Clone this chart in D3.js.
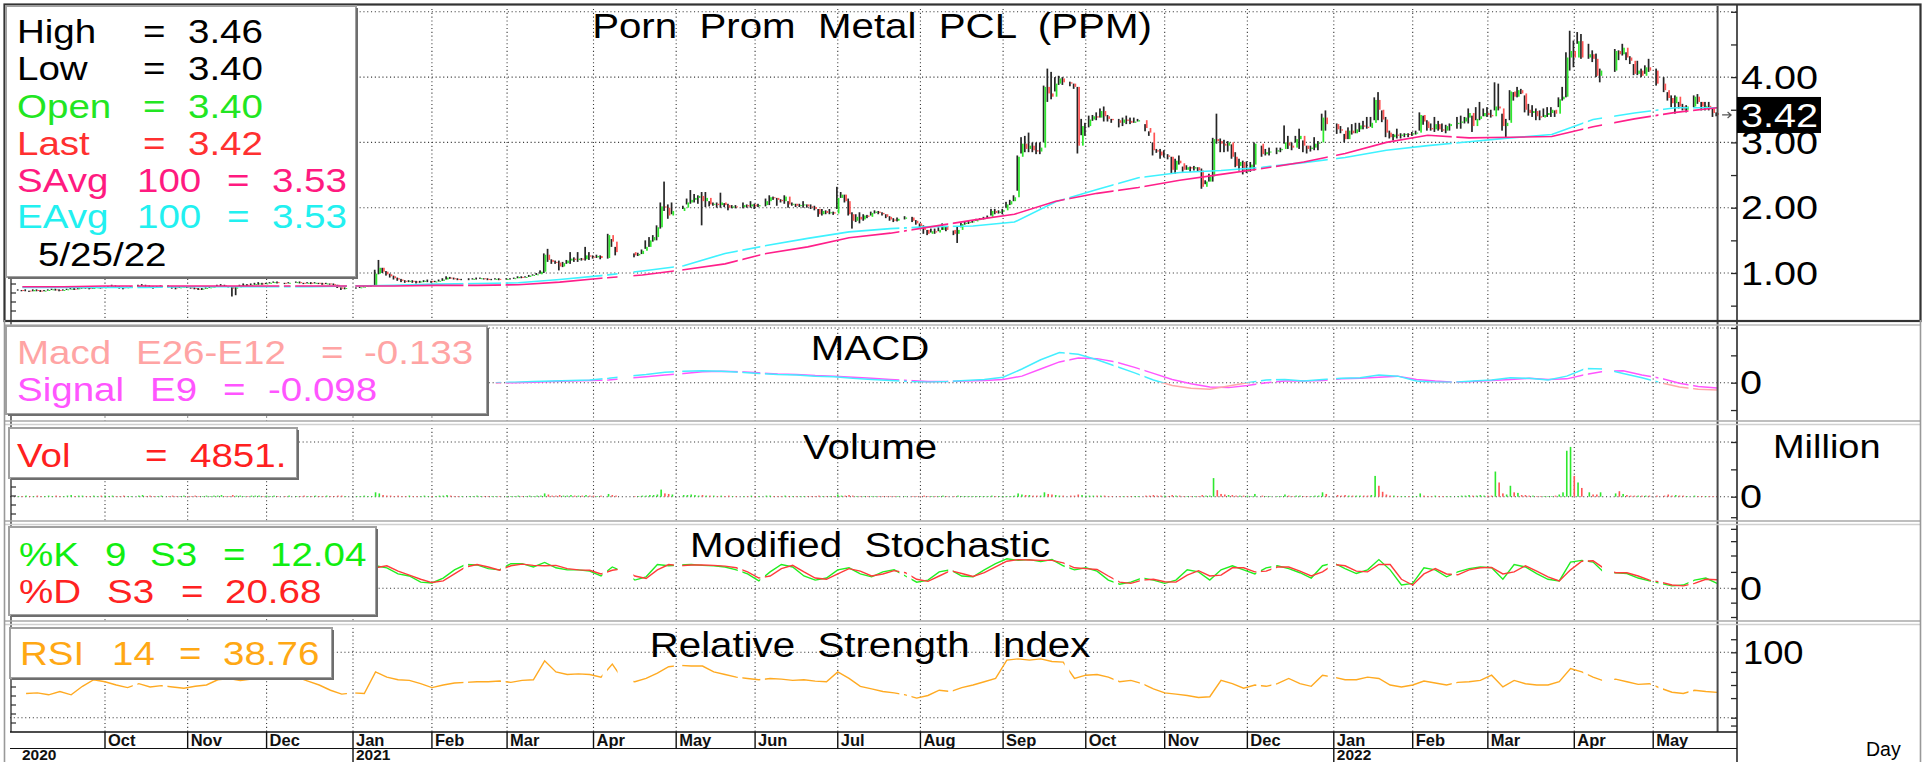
<!DOCTYPE html>
<html>
<head>
<meta charset="utf-8">
<script src="https://cdn.jsdelivr.net/npm/d3@7"></script>
<style>
  body { margin: 0; background: #fff; }
  svg text { font-family: "Liberation Sans", Arial, sans-serif; }
</style>
</head>
<body>
<div id="chart"></div>
<script>
// ---------- data ----------
const months = ["2020-08","2020-09","2020-10","2020-11","2020-12","2021-01","2021-02","2021-03","2021-04","2021-05","2021-06",
  "2021-07","2021-08","2021-09","2021-10","2021-11","2021-12","2022-01","2022-02","2022-03","2022-04","2022-05"];
const firstDay = "2020-08-31", lastDay = "2022-05-25";
// SET market holidays (no bar, gap in the lines)
const holidays = ["2020-10-13","2020-10-23","2020-12-07","2020-12-10","2020-12-31","2021-01-01","2021-02-12","2021-02-26",
  "2021-04-06","2021-04-12","2021-04-13","2021-04-14","2021-04-15","2021-05-03","2021-05-04","2021-05-26","2021-06-03",
  "2021-07-26","2021-07-28","2021-08-12","2021-09-24","2021-10-13","2021-10-22","2021-12-06","2021-12-10","2021-12-31",
  "2022-01-03","2022-02-16","2022-04-06","2022-04-13","2022-04-14","2022-04-15","2022-05-02","2022-05-04","2022-05-16"];

// daily closes / highs / lows, one list per month
const closes = [
  [0.74],
  [0.73,0.73,0.72,0.74,0.73,0.72,0.73,0.74,0.75,0.74,0.73,0.74,0.75,0.76,0.75,0.77,0.78,0.77,0.76,0.77,0.78,0.77],
  [0.78,0.79,0.80,0.79,0.78,0.77,0.78,0.79,0.80,0.81,0.80,0.79,0.78,0.79,0.80,0.79,0.78,0.77,0.78,0.79],
  [0.78,0.77,0.76,0.75,0.76,0.77,0.78,0.79,0.80,0.81,0.80,0.79,0.76,0.78,0.81,0.82,0.81,0.82,0.83,0.84,0.83],
  [0.84,0.85,0.86,0.85,0.84,0.85,0.86,0.85,0.84,0.85,0.84,0.85,0.84,0.83,0.84,0.83,0.82,0.78,0.76,0.77],
  [0.77,0.78,0.79,0.80,0.80,0.99,1.08,1.02,0.98,0.95,0.92,0.90,0.88,0.87,0.88,0.87,0.86,0.87,0.88,0.88],
  [0.86,0.87,0.88,0.90,0.93,0.92,0.91,0.90,0.90,0.90,0.91,0.91,0.92,0.91,0.90,0.90,0.91,0.90],
  [0.91,0.91,0.92,0.94,0.93,0.94,0.96,0.97,0.98,1.02,1.28,1.20,1.17,1.16,1.10,1.15,1.19,1.22,1.20,1.22,1.21,1.27,1.25],
  [1.24,1.26,1.23,1.58,1.48,1.32,1.27,1.29,1.34,1.40,1.50,1.55,1.70,2.02,2.00,1.88,1.95],
  [2.00,2.08,2.12,2.15,2.18,2.10,2.15,2.05,2.06,2.04,2.08,2.04,2.00,2.02,2.01,2.04,2.02,2.05],
  [2.02,2.04,2.10,2.16,2.15,2.12,2.10,2.17,2.05,2.06,2.03,2.04,2.05,2.02,2.01,1.98,1.90,1.95,1.92,1.93,1.91],
  [2.15,2.20,2.10,1.90,1.80,1.86,1.82,1.88,1.86,1.92,1.94,1.92,1.90,1.86,1.82,1.80,1.83,1.85,1.80,1.76],
  [1.72,1.66,1.60,1.64,1.62,1.66,1.72,1.66,1.60,1.66,1.75,1.77,1.78,1.79,1.82,1.83,1.84,1.86,1.95,1.92,1.94],
  [1.96,2.05,2.10,2.16,2.78,2.98,2.90,2.95,2.88,2.86,2.92,3.85,3.75,3.70,3.90,3.98,3.92,3.90,3.85,2.95,3.25],
  [3.25,3.35,3.40,3.38,3.48,3.40,3.36,3.34,3.30,3.35,3.33,3.30,3.32,3.34,3.22,3.15,2.88,2.86,2.80],
  [2.80,2.78,2.58,2.72,2.68,2.58,2.62,2.60,2.62,2.57,2.32,2.40,2.48,3.05,3.02,2.98,2.95,3.00,2.78,2.64,2.70,2.55],
  [2.60,2.66,2.98,2.82,2.85,2.86,2.88,2.90,3.00,2.95,2.92,3.05,3.10,2.95,2.90,2.92,2.98,3.00,3.38,3.28],
  [3.20,3.18,3.05,3.18,3.14,3.20,3.26,3.24,3.22,3.30,3.65,3.50,3.35,3.15,3.08,3.12,3.10,3.12,3.13,3.12],
  [3.14,3.15,3.42,3.32,3.22,3.20,3.28,3.20,3.18,3.25,3.28,3.30,3.32,3.38,3.45,3.25,3.36,3.40,3.45],
  [3.42,3.40,3.55,3.52,3.25,3.30,3.78,3.70,3.80,3.75,3.50,3.45,3.48,3.40,3.38,3.42,3.45,3.50,3.44,3.66,3.70,4.30,4.40],
  [4.30,4.55,4.30,4.35,4.28,4.02,4.10,4.40,4.35,4.45,4.30,4.25,4.05,4.10,4.02,4.15,4.10],
  [3.90,3.80,3.68,3.60,3.70,3.55,3.50,3.55,3.70,3.62,3.55,3.56,3.52,3.45,3.42]
];
const highs = [
  [0.75],
  [0.74,0.75,0.73,0.75,0.75,0.74,0.74,0.75,0.76,0.76,0.75,0.75,0.76,0.78,0.77,0.78,0.80,0.79,0.78,0.78,0.79,0.79],
  [0.79,0.80,0.82,0.81,0.80,0.79,0.79,0.80,0.82,0.83,0.82,0.81,0.80,0.80,0.81,0.81,0.80,0.79,0.79,0.80],
  [0.79,0.78,0.78,0.77,0.77,0.78,0.79,0.80,0.82,0.83,0.82,0.80,0.79,0.80,0.82,0.84,0.83,0.84,0.85,0.86,0.85],
  [0.85,0.86,0.87,0.87,0.85,0.86,0.87,0.87,0.85,0.86,0.86,0.86,0.85,0.85,0.85,0.84,0.84,0.82,0.78,0.78],
  [0.78,0.79,0.80,0.81,0.81,1.05,1.20,1.08,1.03,0.99,0.96,0.93,0.91,0.89,0.89,0.89,0.88,0.88,0.89,0.90],
  [0.88,0.88,0.90,0.92,0.95,0.94,0.93,0.92,0.91,0.92,0.92,0.93,0.93,0.92,0.92,0.91,0.92,0.92],
  [0.92,0.92,0.93,0.95,0.95,0.95,0.97,0.98,1.00,1.04,1.30,1.37,1.21,1.19,1.19,1.17,1.20,1.32,1.24,1.32,1.23,1.40,1.32],
  [1.27,1.28,1.27,1.60,1.52,1.40,1.30,1.31,1.36,1.50,1.55,1.58,1.73,2.08,2.40,2.05,2.08],
  [2.03,2.14,2.27,2.21,2.19,2.24,2.24,2.10,2.08,2.08,2.23,2.07,2.06,2.04,2.04,2.08,2.05,2.10],
  [2.06,2.06,2.14,2.19,2.17,2.15,2.13,2.19,2.10,2.08,2.06,2.06,2.10,2.05,2.05,2.03,1.98,1.98,1.96,1.98,1.94],
  [2.32,2.24,2.20,2.14,1.93,1.90,1.93,1.90,1.89,1.94,1.96,1.95,1.93,1.90,1.87,1.84,1.85,1.87,1.86,1.81],
  [1.76,1.73,1.66,1.68,1.68,1.70,1.76,1.72,1.65,1.71,1.77,1.79,1.80,1.81,1.83,1.84,1.86,1.88,1.98,1.98,1.96],
  [1.98,2.09,2.12,2.19,2.80,3.08,3.10,3.15,3.00,3.00,3.00,3.87,4.13,4.08,4.00,4.02,4.00,3.93,3.90,3.85,3.36],
  [3.30,3.41,3.42,3.46,3.52,3.55,3.42,3.36,3.36,3.38,3.41,3.38,3.38,3.36,3.28,3.17,3.00,2.90,2.90],
  [2.88,2.82,2.78,2.75,2.80,2.63,2.65,2.63,2.64,2.62,2.60,2.42,2.52,3.07,3.44,3.06,3.04,3.02,2.97,2.85,2.75,2.72],
  [2.71,2.70,3.00,2.95,2.90,2.92,2.92,2.92,3.26,3.10,3.00,3.10,3.21,3.03,2.95,2.95,3.08,3.02,3.44,3.49],
  [3.29,3.25,3.13,3.23,3.28,3.30,3.30,3.33,3.39,3.39,3.69,3.77,3.49,3.39,3.18,3.13,3.21,3.14,3.14,3.14],
  [3.16,3.18,3.46,3.41,3.34,3.29,3.39,3.33,3.29,3.27,3.29,3.39,3.41,3.39,3.52,3.41,3.54,3.62,3.52],
  [3.54,3.50,3.92,3.90,3.44,3.36,3.80,3.77,3.85,3.82,3.72,3.59,3.57,3.52,3.49,3.52,3.54,3.54,3.49,3.69,3.85,4.38,4.71],
  [4.56,4.69,4.66,4.51,4.41,4.36,4.13,4.43,4.41,4.51,4.38,4.32,4.20,4.25,4.13,4.18,4.28],
  [4.13,4.00,3.77,3.72,3.72,3.62,3.59,3.57,3.72,3.74,3.62,3.62,3.62,3.52,3.46]
];
const lows = [
  [0.73],
  [0.72,0.72,0.71,0.72,0.72,0.71,0.72,0.73,0.74,0.73,0.72,0.73,0.74,0.75,0.74,0.75,0.76,0.76,0.75,0.76,0.77,0.76],
  [0.77,0.78,0.79,0.78,0.76,0.75,0.77,0.78,0.79,0.80,0.79,0.78,0.76,0.78,0.79,0.78,0.76,0.75,0.77,0.78],
  [0.77,0.76,0.75,0.74,0.74,0.76,0.77,0.78,0.79,0.80,0.79,0.78,0.64,0.66,0.79,0.80,0.80,0.81,0.82,0.82,0.82],
  [0.83,0.84,0.85,0.84,0.83,0.84,0.85,0.84,0.83,0.84,0.83,0.84,0.83,0.82,0.83,0.82,0.81,0.77,0.74,0.75],
  [0.76,0.77,0.78,0.79,0.79,0.80,0.98,1.00,0.96,0.93,0.90,0.88,0.86,0.85,0.86,0.85,0.84,0.85,0.86,0.86],
  [0.85,0.86,0.87,0.88,0.90,0.91,0.90,0.89,0.89,0.89,0.90,0.90,0.91,0.90,0.89,0.89,0.90,0.89],
  [0.90,0.90,0.91,0.92,0.92,0.93,0.94,0.96,0.97,0.99,1.00,1.17,1.14,1.14,1.04,1.09,1.14,1.14,1.17,1.17,1.19,1.19,1.20],
  [1.22,1.23,1.21,1.22,1.40,1.27,1.24,1.26,1.29,1.37,1.40,1.48,1.50,1.68,1.95,1.83,1.90],
  [1.98,2.05,2.06,2.08,2.06,1.73,2.01,2.02,2.03,2.00,2.00,2.01,1.96,1.99,1.99,1.99,2.00,2.00],
  [1.98,2.01,2.02,2.04,2.12,2.03,2.08,2.06,2.00,2.03,2.01,2.01,2.00,2.00,1.98,1.96,1.86,1.88,1.90,1.90,1.89],
  [1.98,2.15,2.08,1.88,1.68,1.78,1.76,1.80,1.84,1.88,1.91,1.90,1.88,1.84,1.80,1.78,1.79,1.82,1.78,1.74],
  [1.68,1.60,1.58,1.62,1.60,1.64,1.66,1.64,1.58,1.46,1.70,1.74,1.75,1.77,1.80,1.81,1.82,1.84,1.88,1.90,1.91],
  [1.90,2.00,2.04,2.10,2.26,2.83,2.85,2.85,2.85,2.82,2.82,3.00,3.62,3.66,3.78,3.88,3.88,3.86,3.82,2.83,3.11],
  [3.10,3.23,3.33,3.34,3.38,3.32,3.32,3.30,3.23,3.25,3.28,3.28,3.30,3.32,3.17,3.10,2.80,2.84,2.75],
  [2.77,2.74,2.52,2.52,2.66,2.55,2.58,2.55,2.57,2.55,2.29,2.36,2.40,2.40,2.98,2.85,2.85,2.86,2.75,2.62,2.57,2.51],
  [2.53,2.55,2.57,2.78,2.80,2.80,2.82,2.85,2.98,2.90,2.88,3.00,2.90,2.85,2.83,2.86,2.88,2.88,3.18,3.18],
  [3.13,3.14,3.00,3.05,3.12,3.14,3.16,3.20,3.21,3.24,3.34,3.34,3.31,3.08,3.06,3.03,3.06,3.06,3.08,3.08],
  [3.10,3.12,3.18,3.27,3.18,3.18,3.16,3.18,3.16,3.14,3.18,3.21,3.21,3.29,3.29,3.16,3.34,3.34,3.40],
  [3.39,3.38,3.49,3.49,3.18,3.06,3.34,3.64,3.69,3.74,3.46,3.41,3.39,3.34,3.34,3.39,3.39,3.39,3.39,3.54,3.64,3.69,4.10],
  [4.15,4.51,4.28,4.28,4.23,4.00,3.92,4.08,4.26,4.33,4.26,4.20,4.03,4.03,4.00,4.05,4.08],
  [3.87,3.77,3.64,3.54,3.44,3.52,3.49,3.46,3.54,3.59,3.49,3.49,3.49,3.39,3.40]
];
// daily volume, million shares
const volumes = [
  [0.01],
  [0.01,0.02,0.01,0.01,0.02,0.01,0.01,0.02,0.01,0.02,0.01,0.01,0.02,0.03,0.01,0.02,0.02,0.01,0.01,0.02,0.01,0.02],
  [0.02,0.01,0.02,0.01,0.01,0.02,0.01,0.01,0.02,0.03,0.01,0.02,0.01,0.01,0.02,0.01,0.02,0.01,0.01,0.02],
  [0.01,0.01,0.02,0.01,0.01,0.02,0.01,0.02,0.02,0.03,0.01,0.01,0.03,0.02,0.02,0.01,0.01,0.02,0.02,0.02,0.01],
  [0.02,0.01,0.02,0.01,0.01,0.02,0.01,0.01,0.02,0.01,0.01,0.02,0.01,0.01,0.02,0.01,0.01,0.02,0.02,0.01],
  [0.01,0.01,0.02,0.01,0.01,0.08,0.06,0.03,0.02,0.02,0.01,0.02,0.01,0.01,0.02,0.01,0.01,0.01,0.02,0.01],
  [0.01,0.01,0.02,0.02,0.03,0.02,0.01,0.01,0.01,0.01,0.01,0.02,0.01,0.01,0.01,0.01,0.01,0.01],
  [0.01,0.01,0.01,0.02,0.01,0.01,0.02,0.01,0.02,0.02,0.06,0.04,0.02,0.02,0.03,0.02,0.02,0.03,0.02,0.02,0.02,0.03,0.02],
  [0.02,0.01,0.02,0.05,0.03,0.02,0.01,0.01,0.02,0.02,0.03,0.03,0.04,0.13,0.06,0.05,0.04],
  [0.03,0.03,0.04,0.03,0.02,0.03,0.02,0.02,0.02,0.01,0.02,0.01,0.02,0.01,0.01,0.01,0.01,0.02],
  [0.01,0.01,0.02,0.02,0.01,0.01,0.01,0.02,0.01,0.01,0.01,0.01,0.01,0.01,0.01,0.01,0.02,0.01,0.01,0.01,0.01],
  [0.04,0.02,0.02,0.03,0.02,0.01,0.01,0.01,0.01,0.01,0.01,0.01,0.01,0.01,0.01,0.01,0.01,0.01,0.01,0.01],
  [0.01,0.02,0.01,0.01,0.01,0.01,0.02,0.01,0.01,0.02,0.01,0.01,0.01,0.01,0.01,0.01,0.01,0.01,0.02,0.01,0.01],
  [0.01,0.01,0.01,0.02,0.06,0.04,0.03,0.03,0.02,0.02,0.02,0.08,0.05,0.04,0.03,0.02,0.02,0.02,0.02,0.04,0.03],
  [0.02,0.02,0.02,0.02,0.02,0.02,0.01,0.01,0.01,0.01,0.01,0.01,0.01,0.01,0.02,0.02,0.03,0.02,0.02],
  [0.02,0.01,0.03,0.02,0.02,0.01,0.01,0.01,0.01,0.01,0.03,0.02,0.02,0.34,0.12,0.05,0.04,0.03,0.03,0.02,0.02,0.02],
  [0.02,0.01,0.05,0.02,0.01,0.01,0.01,0.01,0.04,0.02,0.01,0.02,0.02,0.01,0.01,0.01,0.02,0.02,0.08,0.05],
  [0.03,0.02,0.03,0.02,0.02,0.02,0.02,0.02,0.02,0.03,0.38,0.20,0.09,0.04,0.02,0.02,0.01,0.01,0.01,0.01],
  [0.01,0.01,0.06,0.02,0.01,0.01,0.02,0.01,0.01,0.01,0.01,0.01,0.02,0.02,0.03,0.02,0.02,0.03,0.02],
  [0.02,0.02,0.46,0.26,0.06,0.04,0.20,0.08,0.07,0.03,0.03,0.02,0.02,0.01,0.01,0.01,0.01,0.01,0.02,0.04,0.08,0.84,0.91],
  [0.38,0.26,0.16,0.08,0.04,0.04,0.08,0.06,0.10,0.05,0.03,0.02,0.02,0.02,0.02,0.02,0.02],
  [0.02,0.02,0.04,0.02,0.03,0.02,0.02,0.01,0.02,0.01,0.01,0.01,0.01,0.01,0.005]
];

// indicator lines, sampled every N weekdays from a start date
const avgStart = "2020-09-01", avgStep = 11;
const sma100 = [0.79,0.79,0.80,0.80,0.80,0.80,0.80,0.80,0.80,0.80,0.81,0.81,0.82,0.86,0.92,0.97,1.05,1.14,1.30,1.40,
  1.54,1.61,1.71,1.81,1.90,2.10,2.22,2.31,2.42,2.51,2.60,2.70,2.83,3.00,3.11,3.07,3.08,3.09,3.24,3.36,3.46,3.53];
const ema100 = [0.78,0.78,0.78,0.78,0.79,0.79,0.79,0.79,0.80,0.81,0.83,0.84,0.85,0.90,0.96,1.03,1.11,1.30,1.42,1.53,
  1.63,1.68,1.71,1.72,1.78,2.09,2.28,2.46,2.54,2.57,2.62,2.69,2.77,2.88,2.95,3.01,3.07,3.12,3.35,3.45,3.53,3.53];

const macdStart = "2021-02-24", macdStep = 5;
const macdValues = [0.00,0.01,0.02,0.03,0.04,0.05,0.08,0.12,0.15,0.19,0.21,0.22,0.21,0.19,0.17,0.15,0.14,0.12,0.11,0.08,
  0.06,0.04,0.02,0.01,0.02,0.04,0.06,0.10,0.25,0.42,0.55,0.52,0.42,0.30,0.18,0.05,-0.05,-0.10,-0.12,-0.06,
  0.00,0.05,0.06,0.03,0.06,0.08,0.09,0.14,0.12,0.03,0.01,0.01,0.03,0.05,0.09,0.08,0.05,0.12,0.26,0.25,
  0.17,0.09,0.00,-0.08,-0.12,-0.133];
const signalValues = [0.00,0.00,0.01,0.02,0.03,0.04,0.05,0.08,0.11,0.14,0.17,0.20,0.21,0.20,0.18,0.16,0.15,0.13,0.12,0.10,
  0.08,0.06,0.04,0.02,0.02,0.03,0.04,0.06,0.12,0.25,0.38,0.45,0.44,0.38,0.28,0.17,0.06,-0.02,-0.08,-0.09,
  -0.05,0.00,0.03,0.03,0.04,0.07,0.08,0.10,0.12,0.06,0.03,0.01,0.02,0.04,0.06,0.08,0.06,0.07,0.15,0.21,
  0.22,0.14,0.08,-0.01,-0.07,-0.098];

const stochStart = "2021-01-11", stochStep = 3;
const stochK = [55,50,35,30,15,13,25,45,58,57,48,45,60,60,52,63,50,45,45,42,30,52,40,20,28,58,55,57,58,56,
  55,52,45,35,18,40,58,52,30,20,25,45,50,35,28,40,45,30,15,20,40,45,30,28,45,60,72,68,70,65,
  70,55,45,50,42,20,10,15,25,20,12,20,45,40,20,45,55,45,35,50,55,48,38,25,55,62,48,36,45,70,
  45,8,12,50,45,28,40,48,52,50,22,58,52,36,22,18,64,68,64,38,38,36,25,18,12,6,8,20,25,12.04];
const stochD = [50,55,42,32,22,14,18,35,52,58,52,44,55,59,56,55,56,48,45,44,35,44,48,30,24,45,58,55,57,57,
  56,54,50,40,25,30,48,56,40,25,22,35,48,42,30,35,43,38,22,17,30,43,36,29,38,52,66,70,69,68,
  68,62,50,48,46,30,15,12,20,22,16,15,32,43,30,32,50,50,40,42,52,52,42,30,40,58,55,42,40,58,
  58,22,8,35,48,35,33,45,50,51,35,40,55,42,28,18,45,66,67,48,38,38,30,20,15,8,6,12,22,20.68];

const rsiStart = "2020-09-02", rsiStep = 3;
const rsiValues = [37,38,35,40,35,48,58,55,50,46,52,47,49,47,45,48,50,58,60,57,59,62,64,66,62,56,50,42,36,38,
  37,70,62,58,57,52,46,50,53,54,55,55,56,54,57,58,87,70,66,67,66,62,82,57,55,60,68,78,80,79,
  79,70,66,62,60,58,60,59,57,58,56,55,70,60,48,44,40,38,35,30,34,42,40,46,50,55,60,88,90,88,
  90,86,85,60,65,66,62,55,57,52,44,38,36,34,31,32,57,52,45,50,48,52,60,52,48,65,62,58,58,62,
  60,50,47,50,56,53,50,54,55,57,65,47,57,52,50,50,55,75,70,62,56,59,55,51,52,45,39,37,42,40,38.76];

const priceTicks = [1, 2, 3, 4];
const lastQuote = { high: "3.46", low: "3.40", open: "3.40", last: "3.42", sAvg: "3.53", eAvg: "3.53", date: "5/25/22" };

// ---------- layout ----------
const W = 1923, H = 762;
const PLOT_L = 10, PLOT_R = 1737;
const GREEN = "#2ee82e", RED = "#ff5454";

const svg = d3.select("#chart").append("svg")
  .attr("width", W).attr("height", H).style("display", "block");
svg.append("rect").attr("width", W).attr("height", H).attr("fill", "#fff");
const defs = svg.append("defs");

// calendar of weekdays (holidays keep their slot, as in the original)
const fmt = d3.timeFormat("%Y-%m-%d");
const weekdays = [];
for (let d = new Date(2020, 7, 27); weekdays.length < 462; d.setDate(d.getDate() + 1)) {
  if (d.getDay() % 6 !== 0) weekdays.push(new Date(d));
}
const wIndex = new Map(weekdays.map((d, i) => [fmt(d), i]));
const holidaySet = new Set(holidays);

const x = d3.scaleLinear().domain([-0.28, 459.3]).range([PLOT_L, PLOT_R]);

// trading days month by month
const bars = [];
months.forEach((m, mi) => {
  const days = weekdays.filter(d => {
    const k = fmt(d);
    return k.slice(0, 7) === m && !holidaySet.has(k) && k >= firstDay && k <= lastDay;
  });
  closes[mi].forEach((c, i) => {
    if (!days[i]) return;
    bars.push({ w: wIndex.get(fmt(days[i])), close: c, high: highs[mi][i], low: lows[mi][i], vol: volumes[mi][i] });
  });
});
bars.forEach((b, i) => { b.prev = i ? bars[i - 1].close : b.close; });

const sampled = (start, step, values) => values.map((v, i) => ({ w: wIndex.get(start) + i * step, v }));

// panel scales
const yP = d3.scaleLinear().domain([1, 4]).range([273, 77.1]);
const yM = d3.scaleLinear().domain([0, 1]).range([382.7, 328]);
const yV = d3.scaleLinear().domain([0, 1]).range([496.7, 442]);
const yS = d3.scaleLinear().domain([0, 100]).range([588.3, 547.3]);
const yR = d3.scaleLinear().domain([0, 100]).range([717.7, 652.3]);

const panels = [
  { top: 6, bottom: 320, grid: [1, 2, 3, 4, 5], y: yP, ticks: d3.range(0.5, 5.01, 0.5) },
  { top: 326, bottom: 421, grid: [0, 1], y: yM, ticks: [-0.5, 0, 0.5, 1] },
  { top: 425, bottom: 521, grid: [0, 1], y: yV, ticks: [-0.375, 0, 0.5, 1] },
  { top: 525, bottom: 621, grid: [0], y: yS, ticks: [-70, -35, 0, 40, 80, 115, 145] },
  { top: 625, bottom: 732, grid: [0, 100], y: yR, ticks: [120, 100, 70, 50, 30, 0, -12] }
];

// month boundaries
const monthStarts = weekdays.filter((d, i) => i > 0 && d.getMonth() !== weekdays[i - 1].getMonth())
  .map(d => ({ d, w: wIndex.get(fmt(d)) }))
  .filter(m => x(m.w) > 40 && x(m.w) < PLOT_R - 10);

// ---------- grid ----------
const dotted = sel => sel.attr("stroke", "#3a3a3a").attr("stroke-width", 1.1).attr("stroke-dasharray", "1.1,2.7");
const gGrid = svg.append("g");
panels.forEach(p => {
  gGrid.append("g").selectAll("line").data(monthStarts).join("line")
    .attr("x1", m => x(m.w)).attr("x2", m => x(m.w))
    .attr("y1", p.top + 3).attr("y2", p.bottom).call(dotted);
  gGrid.append("g").selectAll("line").data(p.grid).join("line")
    .attr("x1", PLOT_L).attr("x2", PLOT_R)
    .attr("y1", v => p.y(v)).attr("y2", v => p.y(v)).call(dotted);
});

// holiday gaps for the indicator lines
const hol = holidays.map(h => wIndex.get(h)).filter(w => w !== undefined).sort((a, b) => a - b);
const gaps = [];
hol.forEach(w => {
  const g = gaps[gaps.length - 1];
  if (g && w === g[1] + 1) g[1] = w; else gaps.push([w, w]);
});
const keep = [];
let left = 0;
gaps.forEach(([a, b]) => { keep.push([left, x(a) - 2.3]); left = x(b) + 2.3; });
keep.push([left, PLOT_R]);
defs.append("clipPath").attr("id", "gapClip").selectAll("rect").data(keep).join("rect")
  .attr("x", d => d[0]).attr("width", d => Math.max(0, d[1] - d[0])).attr("y", 0).attr("height", H);
defs.append("clipPath").attr("id", "macdPos").append("rect")
  .attr("x", 0).attr("width", W).attr("y", 320).attr("height", yM(0) - 320);
defs.append("clipPath").attr("id", "macdNeg").append("rect")
  .attr("x", 0).attr("width", W).attr("y", yM(0)).attr("height", 430 - yM(0));

const lineOf = y => d3.line().x(d => x(d.w)).y(d => y(d.v));

// ---------- price ----------
const gPrice = svg.append("g");
gPrice.selectAll("rect.wick").data(bars).join("rect").attr("class", "wick")
  .attr("x", d => x(d.w) - 1.7).attr("width", 1.7)
  .attr("y", d => yP(d.high)).attr("height", d => Math.max(1, yP(d.low) - yP(d.high)))
  .attr("fill", "#262626");
gPrice.selectAll("rect.body").data(bars.filter(d => d.close !== d.prev)).join("rect").attr("class", "body")
  .attr("x", d => x(d.w)).attr("width", 1.7)
  .attr("y", d => yP(Math.max(d.close, d.prev)))
  .attr("height", d => Math.max(1, Math.abs(yP(d.close) - yP(d.prev))))
  .attr("fill", d => d.close > d.prev ? GREEN : RED);

const gLines = svg.append("g").attr("clip-path", "url(#gapClip)");
gLines.append("path").datum(sampled(avgStart, avgStep, ema100))
  .attr("d", lineOf(yP)).attr("fill", "none").attr("stroke", "#3ef2ff").attr("stroke-width", 1.6);
gLines.append("path").datum(sampled(avgStart, avgStep, sma100))
  .attr("d", lineOf(yP)).attr("fill", "none").attr("stroke", "#ff1f8a").attr("stroke-width", 1.6);

// ---------- MACD ----------
const macdPts = sampled(macdStart, macdStep, macdValues);
gLines.append("path").datum(sampled(macdStart, macdStep, signalValues))
  .attr("d", lineOf(yM)).attr("fill", "none").attr("stroke", "#ff55ff").attr("stroke-width", 1.5);
gLines.append("g").attr("clip-path", "url(#macdPos)").append("path").datum(macdPts)
  .attr("d", lineOf(yM)).attr("fill", "none").attr("stroke", "#44eeff").attr("stroke-width", 1.5);
gLines.append("g").attr("clip-path", "url(#macdNeg)").append("path").datum(macdPts)
  .attr("d", lineOf(yM)).attr("fill", "none").attr("stroke", "#ffa8a8").attr("stroke-width", 1.5);

// ---------- volume ----------
svg.append("g").selectAll("rect").data(bars).join("rect")
  .attr("x", d => x(d.w) - 0.8).attr("width", 1.6)
  .attr("y", d => yV(d.vol)).attr("height", d => Math.max(0.6, yV(0) - yV(d.vol)))
  .attr("fill", d => d.close >= d.prev ? GREEN : RED);

// ---------- stochastic ----------
gLines.append("path").datum(sampled(stochStart, stochStep, stochK))
  .attr("d", lineOf(yS)).attr("fill", "none").attr("stroke", "#22ee22").attr("stroke-width", 1.4);
gLines.append("path").datum(sampled(stochStart, stochStep, stochD))
  .attr("d", lineOf(yS)).attr("fill", "none").attr("stroke", "#ff3b3b").attr("stroke-width", 1.4);

// ---------- RSI ----------
gLines.append("path").datum(sampled(rsiStart, rsiStep, rsiValues))
  .attr("d", lineOf(yR)).attr("fill", "none").attr("stroke", "#ffaa22").attr("stroke-width", 1.4);

// ---------- axes, frames ----------
const gAxes = svg.append("g");
const lastW = wIndex.get(lastDay);
gAxes.append("line").attr("x1", x(lastW) + 0.5).attr("x2", x(lastW) + 0.5).attr("y1", 6).attr("y2", 732)
  .attr("stroke", "#4a4a4a").attr("stroke-width", 2);
gAxes.append("line").attr("x1", PLOT_R).attr("x2", PLOT_R).attr("y1", 5).attr("y2", H)
  .attr("stroke", "#2a2a2a").attr("stroke-width", 1.6);
gAxes.append("line").attr("x1", 11).attr("x2", 11).attr("y1", 6).attr("y2", 732)
  .attr("stroke", "#2a2a2a").attr("stroke-width", 1.3);

panels.forEach(p => {
  const inRange = p.ticks.filter(v => p.y(v) > p.top && p.y(v) < p.bottom);
  gAxes.append("g").attr("transform", `translate(${PLOT_R},0)`)
    .call(d3.axisRight(p.y).tickValues(inRange).tickSize(-6).tickFormat(""))
    .call(g => g.select(".domain").remove())
    .call(g => g.selectAll("line").attr("stroke", "#2a2a2a").attr("stroke-width", 1.3));
  const leftTicks = d3.range(p.top + 8, p.bottom, 9);
  gAxes.append("g").selectAll("line").data(leftTicks).join("line")
    .attr("x1", 11).attr("x2", 16).attr("y1", v => v).attr("y2", v => v)
    .attr("stroke", "#2a2a2a").attr("stroke-width", 1.2);
});

// date axis
gAxes.append("line").attr("x1", PLOT_L).attr("x2", PLOT_R).attr("y1", 732).attr("y2", 732)
  .attr("stroke", "#111").attr("stroke-width", 1.5);
gAxes.append("line").attr("x1", PLOT_L).attr("x2", PLOT_R).attr("y1", 748.5).attr("y2", 748.5)
  .attr("stroke", "#111").attr("stroke-width", 1.2);
const gMonths = gAxes.append("g").selectAll("g").data(monthStarts).join("g")
  .attr("transform", m => `translate(${x(m.w)},0)`);
gMonths.append("line").attr("y1", 732).attr("y2", 748).attr("stroke", "#111").attr("stroke-width", 1.4);
gMonths.append("text").attr("x", 3).attr("y", 746).attr("font-size", 16.5).attr("font-weight", "bold")
  .attr("fill", "#111").text(m => d3.timeFormat("%b")(m.d));
const years = monthStarts.filter(m => m.d.getMonth() === 0);
gAxes.append("g").selectAll("line").data(years).join("line")
  .attr("x1", m => x(m.w)).attr("x2", m => x(m.w)).attr("y1", 748).attr("y2", H)
  .attr("stroke", "#111").attr("stroke-width", 1.4);
gAxes.append("g").selectAll("text").data([{ x: 22, t: "2020" }].concat(years.map(m => ({ x: x(m.w) + 3, t: m.d.getFullYear() }))))
  .join("text").attr("x", d => d.x).attr("y", 760).attr("font-size", 15.5).attr("font-weight", "bold")
  .attr("fill", "#111").text(d => d.t);

// frames and panel separators
const gFrame = svg.append("g").attr("fill", "none");
gFrame.append("rect").attr("x", 4.5).attr("y", 4.5).attr("width", 1916).attr("height", 316.5)
  .attr("stroke", "#333").attr("stroke-width", 2.2);
[[325, "#b8b8b8"], [421, "#a8a8a8"], [424.5, "#d0d0d0"], [521, "#a8a8a8"], [524.5, "#d0d0d0"], [621, "#a8a8a8"], [624.5, "#d0d0d0"]]
  .forEach(([yy, c]) => gFrame.append("line").attr("x1", 4).attr("x2", 1921).attr("y1", yy).attr("y2", yy)
    .attr("stroke", c).attr("stroke-width", 1.6));
gFrame.append("line").attr("x1", 4.5).attr("x2", 4.5).attr("y1", 320).attr("y2", H).attr("stroke", "#999").attr("stroke-width", 1.6);
gFrame.append("line").attr("x1", 1920.5).attr("x2", 1920.5).attr("y1", 320).attr("y2", H).attr("stroke", "#999").attr("stroke-width", 1.6);

// ---------- texts ----------
const SX = 1.15;
function label(g, txt, x0, y0, size, color, anchor = "start", sx = SX) {
  return g.append("text")
    .attr("transform", `translate(${x0},${y0}) scale(${sx},1)`)
    .attr("font-size", size).attr("fill", color).attr("text-anchor", anchor)
    .style("white-space", "pre").text(txt);
}
const gText = svg.append("g");

// right axis labels
priceTicks.forEach(v => label(gText, v.toFixed(2), 1741, yP(v) + 11.5, 33, "#000", "start", 1.2));
label(gText, "0", 1740, yM(0) + 11.5, 33, "#000", "start", 1.2);
label(gText, "0", 1740, yV(0) + 11.5, 33, "#000", "start", 1.2);
label(gText, "Million", 1773, 458, 33, "#000");
label(gText, "0", 1740, yS(0) + 11.5, 33, "#000", "start", 1.2);
label(gText, "100", 1743, yR(100) + 11.5, 33, "#000", "start", 1.1);
label(gText, "Day", 1866, 756, 19.5, "#000", "start", 1);

// last price marker
const yLast = yP(+lastQuote.last);
gText.append("rect").attr("x", PLOT_R).attr("y", yLast - 18).attr("width", 84).attr("height", 36).attr("fill", "#000");
label(gText, lastQuote.last, 1741, yLast + 12, 33, "#fff", "start", 1.2);
gText.append("path").attr("d", `M${x(lastW) + 5},${yLast} H${x(lastW) + 14} M${x(lastW) + 10.5},${yLast - 3} L${x(lastW) + 14},${yLast} L${x(lastW) + 10.5},${yLast + 3}`)
  .attr("fill", "none").attr("stroke", "#555").attr("stroke-width", 1.2);

// panel titles
label(gText, "Porn  Prom  Metal  PCL  (PPM)", 872, 38, 35, "#000", "middle");
label(gText, "MACD", 870, 360, 35, "#000", "middle");
label(gText, "Volume", 870, 459, 35, "#000", "middle");
label(gText, "Modified  Stochastic", 870, 557, 35, "#000", "middle");
label(gText, "Relative  Strength  Index", 870, 657, 35, "#000", "middle");

// legend boxes
function box(x0, y0, x1, y1) {
  gText.append("rect").attr("x", x0).attr("y", y0).attr("width", x1 - x0).attr("height", y1 - y0)
    .attr("fill", "#fff").attr("stroke", "#a0a0a0").attr("stroke-width", 2);
  gText.append("path").attr("d", `M${x1 + 1},${y0 + 2} V${y1 + 1} H${x0 + 2}`)
    .attr("fill", "none").attr("stroke", "#6e6e6e").attr("stroke-width", 2);
}
const FS = 33.5;
box(6, 6, 356, 277);
[
  [["High", 17], ["=", 143], [lastQuote.high, 188], "#000", 43],
  [["Low", 17], ["=", 143], [lastQuote.low, 188], "#000", 80],
  [["Open", 17], ["=", 143], [lastQuote.open, 188], "#22e622", 118],
  [["Last", 17], ["=", 143], [lastQuote.last, 188], "#ff3030", 155]
].forEach(([a, b, c, col, yy]) => [a, b, c].forEach(([t, xx]) => label(gText, t, xx, yy, FS, col)));
[["SAvg", 17], ["100", 137], ["=", 227], [lastQuote.sAvg, 272]].forEach(([t, xx]) => label(gText, t, xx, 192, FS, "#ff1a80"));
[["EAvg", 17], ["100", 137], ["=", 227], [lastQuote.eAvg, 272]].forEach(([t, xx]) => label(gText, t, xx, 228, FS, "#22f0f0"));
label(gText, lastQuote.date, 38, 266, FS, "#000");

box(6, 326, 487, 414);
[["Macd", 17], ["E26-E12", 136], ["=", 321], ["-0.133", 364]].forEach(([t, xx]) => label(gText, t, xx, 364, FS, "#ffa4a4"));
[["Signal", 17], ["E9", 150], ["=", 223], ["-0.098", 268]].forEach(([t, xx]) => label(gText, t, xx, 401, FS, "#ff55ff"));

box(9, 428, 297, 478);
[["Vol", 17], ["=", 145], ["4851.", 190]].forEach(([t, xx]) => label(gText, t, xx, 467, FS, "#ff2020"));

box(9, 527, 376, 615);
[["%K", 19], ["9", 105], ["S3", 150], ["=", 223], ["12.04", 270]].forEach(([t, xx]) => label(gText, t, xx, 566, FS, "#11ee11"));
[["%D", 19], ["S3", 107], ["=", 181], ["20.68", 225]].forEach(([t, xx]) => label(gText, t, xx, 603, FS, "#ff2222"));

box(10, 628, 332, 678);
[["RSI", 20], ["14", 112], ["=", 179], ["38.76", 223]].forEach(([t, xx]) => label(gText, t, xx, 665, FS, "#ffa814"));
</script>
</body>
</html>
